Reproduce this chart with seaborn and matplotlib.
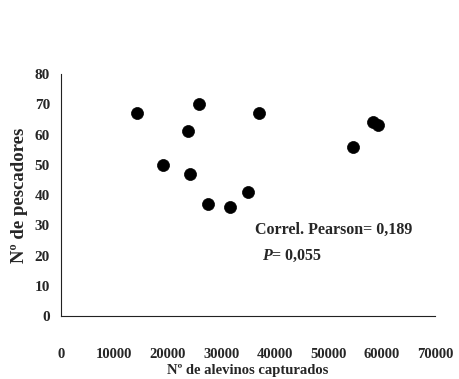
import matplotlib
matplotlib.use("Agg")
import matplotlib.pyplot as plt
import seaborn as sns
import pandas as pd

# Number of fry caught vs number of fishermen
alevinos = [14300, 19000, 23800, 24200, 25800, 27500, 31600, 35000, 37100, 54600, 58400, 59400]
pescadores = [67, 50, 61, 47, 70, 37, 36, 41, 67, 56, 64, 63]

x_ticks = [0, 10000, 20000, 30000, 40000, 50000, 60000, 70000]
y_ticks = [0, 10, 20, 30, 40, 50, 60, 70, 80]

df = pd.DataFrame({"alevinos": alevinos, "pescadores": pescadores})

sns.set_theme(style="white")
plt.rcParams["font.family"] = ["Liberation Serif", "DejaVu Serif"]
plt.rcParams["font.weight"] = "bold"
plt.rcParams["mathtext.fontset"] = "custom"
plt.rcParams["mathtext.it"] = "Liberation Serif:italic:bold"
plt.rcParams["mathtext.rm"] = "Liberation Serif:bold"

fig = plt.figure(figsize=(4.59, 3.79), dpi=100)
ax = fig.add_axes([0.1329, 0.1662, 0.8148, 0.6385])

sns.scatterplot(data=df, x="alevinos", y="pescadores", ax=ax,
                color="black", edgecolor="black", s=75, linewidth=0.5, zorder=3)

ax.set_xlim(0, 70000)
ax.set_ylim(0, 80)
ax.set_xticks(x_ticks)
ax.set_yticks(y_ticks)
ax.set_xticklabels([str(v) for v in x_ticks], fontsize=10.5, fontweight="bold")
ax.set_yticklabels([str(v) for v in y_ticks], fontsize=11, fontweight="bold")

sns.despine(ax=ax)
for side in ("left", "bottom"):
    ax.spines[side].set_color("#222222")
    ax.spines[side].set_linewidth(0.8)

ax.tick_params(axis="x", direction="out", length=3, width=0.7, color="#222222", pad=20)
ax.tick_params(axis="y", direction="out", length=3, width=0.7, color="#222222", pad=5)

ax.set_xlabel("Nº de alevinos capturados", fontsize=10.5, fontweight="bold", labelpad=2)
ax.set_ylabel("Nº de pescadores", fontsize=13.5, fontweight="bold", labelpad=5)

ax.text(36300, 28.4, "Correl. Pearson= 0,189", fontsize=11.5, fontweight="bold",
        va="center", ha="left")
ax.text(37600, 19.8, "$P$= 0,055", fontsize=11.5, fontweight="bold",
        va="center", ha="left")

fig.savefig("out.png", dpi=100, facecolor="white")
